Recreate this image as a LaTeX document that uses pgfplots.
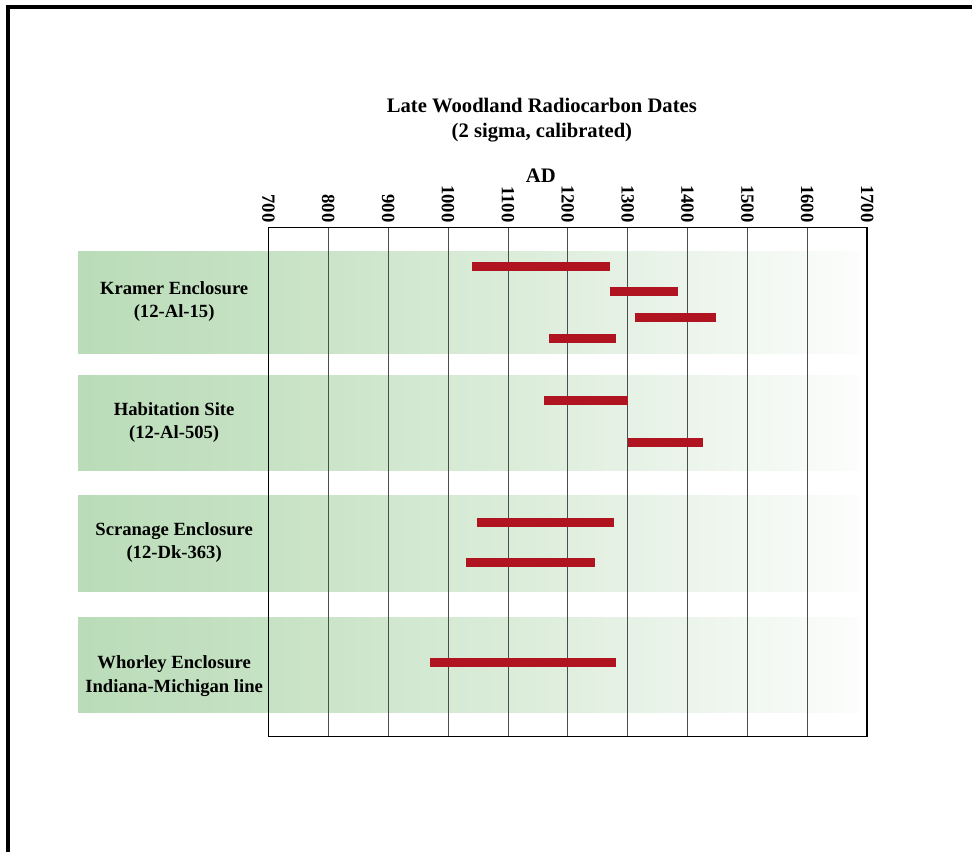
\documentclass[border=0pt]{standalone}
\usepackage{fontspec}
\setmainfont{Liberation Serif}
\usepackage{pgfplots}
\pgfplotsset{compat=1.18}

\definecolor{barred}{RGB}{176,20,32}
\definecolor{gA}{RGB}{186,220,184}
\definecolor{gB}{RGB}{198,226,196}
\definecolor{gC}{RGB}{218,236,216}
\definecolor{gD}{RGB}{237,245,237}
\definecolor{gE}{RGB}{252,253,252}

% gradient of the site bands, dark at the labels, white at the right
\pgfdeclarehorizontalshading{band}{100bp}{color(0bp)=(gA); color(25bp)=(gA);
  color(37bp)=(gB); color(52bp)=(gC); color(65bp)=(gD); color(75bp)=(gE); color(100bp)=(gE)}

\pgfplotsset{
  daterange/.style={draw=barred, line width=6.75pt, line cap=butt},
  siteband/.style={draw=none, shading=band, on layer=axis background},
}

\begin{document}
\begin{tikzpicture}[x=0.75pt, y=-0.75pt]
\path (0,0) rectangle (974,854);
\draw[line width=3pt] (8,854) -- (8,7.5) -- (974,7.5);

\begin{axis}[
    at={(201.75pt,-553.5pt)}, anchor=south west,
    scale only axis, width=450pt, height=382.5pt,
    set layers, clip=false,
    xmin=700, xmax=1700, ymin=0, ymax=510,
    xtick={700,800,...,1700}, ytick=\empty,
    xticklabel pos=upper,
    major tick length=0pt,
    xmajorgrids,
    grid style={line width=0.6pt, black!70},
    axis line style={line width=1.2pt},
    /pgf/number format/1000 sep={},
    /pgf/number format/assume math mode=true,
    xticklabel style={rotate=-90, anchor=east, inner sep=0pt, inner xsep=3.5pt,
        font=\fontsize{14pt}{17pt}\selectfont\bfseries},
]
% site bands (y counted upward from the bottom of the frame box)
\addplot[siteband] coordinates {(382,384)(1690,384)(1690,486)(382,486)};
\addplot[siteband] coordinates {(382,267)(1690,267)(1690,362)(382,362)};
\addplot[siteband] coordinates {(382,145)(1690,145)(1690,241)(382,241)};
\addplot[siteband] coordinates {(382,24)(1690,24)(1690,119)(382,119)};

% calibrated 2 sigma ranges
\addplot[daterange] coordinates {(1040,471.3)(1270,471.3)};
\addplot[daterange] coordinates {(1270,445.7)(1384,445.7)};
\addplot[daterange] coordinates {(1312,420.3)(1447,420.3)};
\addplot[daterange] coordinates {(1168,399)(1280,399)};
\addplot[daterange] coordinates {(1160,336.3)(1300,336.3)};
\addplot[daterange] coordinates {(1300,294.3)(1425,294.3)};
\addplot[daterange] coordinates {(1049,214.3)(1277,214.3)};
\addplot[daterange] coordinates {(1030,174)(1246,174)};
\addplot[daterange] coordinates {(970,74)(1281,74)};
\end{axis}

\node[align=center, font=\fontsize{15.5pt}{18.75pt}\selectfont\bfseries]
  at (543,120.5) {Late Woodland Radiocarbon Dates\\(2 sigma, calibrated)};
\node[font=\fontsize{15.5pt}{18pt}\selectfont\bfseries] at (542,176) {AD};

\begin{scope}[every node/.style={align=center, font=\fontsize{14pt}{17.6pt}\selectfont\bfseries}]
\node at (174.5,302.3) {Kramer Enclosure\\(12-Al-15)};
\node at (174.5,423.5) {Habitation Site\\(12-Al-505)};
\node at (174.5,543.8) {Scranage Enclosure\\(12-Dk-363)};
\node at (174.5,677.3) {Whorley Enclosure\\Indiana-Michigan line};
\end{scope}
\end{tikzpicture}
\end{document}
